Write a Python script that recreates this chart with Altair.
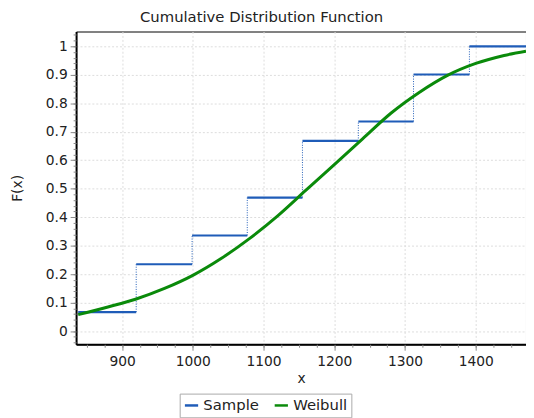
import altair as alt
import pandas as pd

# Sample (empirical CDF) steps
step_start = [838, 920, 999, 1077, 1155, 1234, 1312, 1391]
step_end = [920, 999, 1077, 1155, 1234, 1312, 1391, 1471]
step_level = [0.067, 0.235, 0.336, 0.469, 0.668, 0.736, 0.901, 1.0]

# Weibull fitted CDF
curve_x = [838, 880, 920, 960, 1000, 1040, 1080, 1120, 1160, 1200,
           1240, 1280, 1320, 1360, 1400, 1440, 1471]
curve_y = [0.058, 0.085, 0.113, 0.150, 0.196, 0.255, 0.325, 0.405, 0.495, 0.585,
           0.675, 0.765, 0.838, 0.898, 0.940, 0.968, 0.983]

x_major = [900, 1000, 1100, 1200, 1300, 1400]
x_minor = [850, 875, 900, 925, 950, 975, 1000, 1025, 1050, 1075, 1100, 1125, 1150,
           1175, 1200, 1225, 1250, 1275, 1300, 1325, 1350, 1375, 1400, 1425, 1450]
y_major = [0, 0.1, 0.2, 0.3, 0.4, 0.5, 0.6, 0.7, 0.8, 0.9, 1]
y_minor = [-0.04, -0.02, 0, 0.02, 0.04, 0.06, 0.08, 0.1, 0.12, 0.14, 0.16, 0.18, 0.2,
           0.22, 0.24, 0.26, 0.28, 0.3, 0.32, 0.34, 0.36, 0.38, 0.4, 0.42, 0.44, 0.46,
           0.48, 0.5, 0.52, 0.54, 0.56, 0.58, 0.6, 0.62, 0.64, 0.66, 0.68, 0.7, 0.72,
           0.74, 0.76, 0.78, 0.8, 0.82, 0.84, 0.86, 0.88, 0.9, 0.92, 0.94, 0.96, 0.98,
           1.0, 1.02, 1.04]

BLUE = "#1f5cb8"
GREEN = "#0a8a0a"
FONT = "DejaVu Sans"

steps = pd.DataFrame({"x": step_start, "x2": step_end, "y": step_level,
                      "series": ["Sample"] * len(step_start)})
jumps = pd.DataFrame({"x": step_start[1:], "y": step_level[:-1], "y2": step_level[1:]})
curve = pd.DataFrame({"x": curve_x, "y": curve_y, "series": ["Weibull"] * len(curve_x)})

xs = alt.Scale(domain=[835, 1471], nice=False, zero=False)
ys = alt.Scale(domain=[-0.046, 1.052], nice=False, zero=False)
color = alt.Color("series:N",
                  scale=alt.Scale(domain=["Sample", "Weibull"], range=[BLUE, GREEN]),
                  legend=alt.Legend(title=None, orient="none", direction="horizontal",
                                    legendX=105, legendY=367,
                                    symbolType="stroke", symbolStrokeWidth=2.5,
                                    symbolSize=180, labelFont=FONT, labelFontSize=15,
                                    labelColor="#222", strokeColor="#aaaaaa",
                                    padding=4, columnPadding=10, labelOffset=4))

x_axis = alt.Axis(values=x_major, title="x", format="d", grid=True,
                  gridColor="#dcdcdc", gridDash=[2, 2], tickColor="#888", tickSize=6,
                  domainColor="black", domainWidth=2, labelFont=FONT, labelFontSize=14,
                  labelColor="#222", titleFont=FONT, titleFontSize=14,
                  titleFontWeight="normal", titleColor="#222", labelPadding=5,
                  titlePadding=3, orient="bottom")
y_axis = alt.Axis(values=y_major, title="F(x)", format="~g", grid=True,
                  gridColor="#dcdcdc", gridDash=[2, 2], tickColor="#888", tickSize=6,
                  domainColor="black", domainWidth=2, labelFont=FONT, labelFontSize=14,
                  labelColor="#222", titleFont=FONT, titleFontSize=14,
                  titleFontWeight="normal", titleColor="#222", labelPadding=3,
                  titlePadding=21, orient="left")

main_steps = alt.Chart(steps).mark_rule(strokeWidth=2.2).encode(
    x=alt.X("x:Q", scale=xs, axis=x_axis),
    x2="x2:Q",
    y=alt.Y("y:Q", scale=ys, axis=y_axis),
    color=color,
)

vert = alt.Chart(jumps).mark_rule(strokeWidth=1, strokeDash=[1, 1.5], color=BLUE).encode(
    x=alt.X("x:Q", scale=xs, axis=None),
    y=alt.Y("y:Q", scale=ys, axis=None),
    y2="y2:Q",
)

line = alt.Chart(curve).mark_line(strokeWidth=3, interpolate="monotone").encode(
    x=alt.X("x:Q", scale=xs, axis=None),
    y=alt.Y("y:Q", scale=ys, axis=None),
    color=color,
)

minor = alt.Chart(curve).mark_point(opacity=0).encode(
    x=alt.X("x:Q", scale=xs, axis=alt.Axis(values=x_minor, labels=False, grid=False,
                                           domain=False, tickSize=3, tickColor="#888",
                                           title=None, orient="bottom")),
    y=alt.Y("y:Q", scale=ys, axis=alt.Axis(values=y_minor, labels=False, grid=False,
                                           domain=False, tickSize=3, tickColor="#888",
                                           title=None, orient="left")),
)

chart = alt.layer(vert, main_steps, line, minor).resolve_axis(
    x="independent", y="independent"
).properties(
    width=456,
    height=317,
    title=alt.Title("Cumulative Distribution Function", font=FONT, fontSize=15,
                    fontWeight="normal", color="#222", anchor="middle", offset=7,
                    frame="group", dx=-40),
    autosize=alt.AutoSizeParams(type="none"),
    padding={"left": 69, "top": 21, "right": 0, "bottom": 80},
).configure_view(stroke="black", strokeWidth=1)

chart.save("out.html", embed_options={"renderer": "svg", "actions": False})
